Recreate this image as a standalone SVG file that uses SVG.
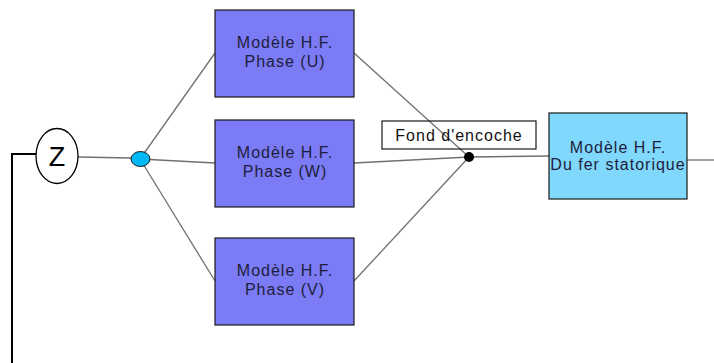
<svg xmlns="http://www.w3.org/2000/svg" width="714" height="363" viewBox="0 0 714 363">
<style>
.wire{stroke:#707070;stroke-width:1.3;fill:none}
.phase{fill:#7b7bf5;stroke:#1a1a1a;stroke-width:1.2}
.fer{fill:#80d8fc;stroke:#1a1a1a;stroke-width:1.2}
.t{font-family:"Liberation Sans",Arial,sans-serif;font-size:16px;letter-spacing:1px;fill:#1e1e3c;text-anchor:middle}
</style>
<rect width="714" height="363" fill="#ffffff"/>
<g id="connectors">
<polyline points="12,363 12,154 36,154" style="stroke:#000;stroke-width:2;fill:none"/>
<line class="wire" x1="78" y1="157" x2="131" y2="158"/>
<line class="wire" x1="140" y1="159" x2="215" y2="53"/>
<line class="wire" x1="140" y1="159" x2="215" y2="163"/>
<line class="wire" x1="140" y1="159" x2="215" y2="281"/>
<line class="wire" x1="354" y1="53" x2="469" y2="157"/>
<line class="wire" x1="354" y1="163" x2="469" y2="157"/>
<line class="wire" x1="354" y1="281" x2="469" y2="157"/>
<line class="wire" x1="469" y1="157" x2="549" y2="156"/>
<line class="wire" x1="687" y1="160" x2="714" y2="160"/>
</g>
<g id="z">
<ellipse cx="57" cy="156" rx="21" ry="27.5" fill="#fff" stroke="#000" stroke-width="1.3"/>
<text x="57" y="166" style="font-family:'Liberation Sans',Arial,sans-serif;font-size:27px;text-anchor:middle;fill:#000">Z</text>
</g>
<g id="junction-blue">
<ellipse cx="140.5" cy="159" rx="9.5" ry="7.5" fill="#00b8f5" stroke="#1a1a1a" stroke-width="1"/>
</g>
<g id="phase-u">
<rect class="phase" x="215" y="10" width="139" height="87"/>
<text class="t" x="285" y="48">Modèle H.F.</text>
<text class="t" x="285" y="67">Phase (U)</text>
</g>
<g id="phase-w">
<rect class="phase" x="215" y="120" width="139" height="87"/>
<text class="t" x="285" y="158">Modèle H.F.</text>
<text class="t" x="285" y="177">Phase (W)</text>
</g>
<g id="phase-v">
<rect class="phase" x="215" y="238" width="139" height="87"/>
<text class="t" x="285" y="276">Modèle H.F.</text>
<text class="t" x="285" y="295">Phase (V)</text>
</g>
<g id="fond-encoche">
<rect x="382" y="121" width="154" height="28" fill="none" stroke="#1a1a1a" stroke-width="1.2"/>
<text class="t" x="459" y="141" style="fill:#111">Fond d'encoche</text>
</g>
<g id="junction-black">
<circle cx="469" cy="157" r="5" fill="#000"/>
</g>
<g id="fer">
<rect class="fer" x="549" y="113" width="138" height="86"/>
<text class="t" x="618" y="153">Modèle H.F.</text>
<text class="t" x="618" y="170">Du fer statorique</text>
</g>
</svg>
